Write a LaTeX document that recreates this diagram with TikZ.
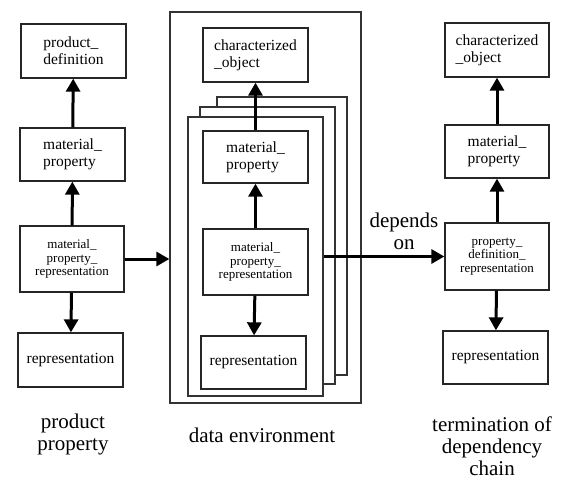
\documentclass[tikz,border=0pt]{standalone}
\usepackage{fontspec}
\setmainfont{Liberation Serif}
\usetikzlibrary{arrows.meta}

\newcommand{\boxfont}{\fontsize{15.5}{17}\selectfont}
\newcommand{\tinyfont}{\fontsize{13}{13.5}\selectfont}
\newcommand{\capfont}{\fontsize{21}{22}\selectfont}

\tikzstyle{box} = [rectangle, minimum width=105pt, minimum height=54pt, inner sep=2pt, draw=black!85, line width=1.3pt, fill=white, text centered, font=\boxfont]
\tikzstyle{box-small} = [box, align=center, minimum height=66pt, font=\tinyfont]
\tikzstyle{frame} = [rectangle, draw=black!80, line width=1.3pt, fill=white]
\tikzstyle{caption} = [align=center, inner sep=0pt, font=\capfont]
\tikzstyle{arrow} = [line width=3pt, -{Triangle[width=14pt,length=13pt]}]

\begin{document}
\begin{tikzpicture}[x=1pt, y=-1pt]
  \useasboundingbox (0,0) rectangle (567,488);

  % product property
  \node (pd_left) [box, align=left] at (73.5,51) {product\_\\definition};
  \node (mp_left) [box, align=left, minimum height=53pt] at (72.5,154.5) {material\_\\property};
  \node (mpr_left) [box-small, minimum width=104pt] at (72,259) {material\_\\property\_\\representation};
  \node (rep_left) [box] at (70.5,360) {representation};
  \node (cap_left) [caption] at (73,434) {product\\property};

  % data environment
  \node (env) [frame, minimum width=191pt, minimum height=391pt] at (265.5,207.5) {};
  \node (frame_back) [frame, minimum width=130pt, minimum height=278pt] at (282,236) {};
  \node (frame_mid) [frame, minimum width=135pt, minimum height=277pt] at (267.5,245.5) {};
  \node (frame_front) [frame, minimum width=135pt, minimum height=279pt] at (255.5,256.5) {};
  \node (co_mid) [box, align=left] at (255.5,55) {characterized\\\_object};
  \node (mp_mid) [box, align=left, minimum height=52pt] at (255.5,157) {material\_\\property};
  \node (mpr_mid) [box-small] at (255.5,262) {material\_\\property\_\\representation};
  \node (rep_mid) [box, minimum height=53pt] at (253.5,362.5) {representation};
  \node (cap_mid) [caption] at (262,435) {data environment};

  % termination of dependency chain
  \node (co_right) [box, align=left, minimum width=104pt] at (497,50) {characterized\\\_object};
  \node (mp_right) [box, align=left, minimum width=104pt, minimum height=53pt] at (497,151.5) {material\_\\property};
  \node (pdr_right) [box-small, minimum width=104pt, minimum height=67pt] at (497,256.5) {property\_\\definition\_\\representation};
  \node (rep_right) [box, minimum height=53pt] at (495.5,357.5) {representation};
  \node (cap_right) [caption] at (492,446.5) {termination of\\dependency\\chain};
  \node (depends) [caption] at (404,231) {depends\\on};

  \draw [arrow] (mpr_left) -- (mp_left);
  \draw [arrow] (mp_left) -- (pd_left);
  \draw [arrow] (mpr_left) -- (rep_left);
  \draw [arrow] (mpr_left.east) -- (mpr_left.east -| env.west);
  \draw [arrow] (mpr_mid) -- (mp_mid);
  \draw [arrow] (mp_mid) -- (co_mid);
  \draw [arrow] (mpr_mid) -- (rep_mid);
  \draw [arrow] (frame_front.east) -- (pdr_right.west);
  \draw [arrow] (pdr_right) -- (mp_right);
  \draw [arrow] (mp_right) -- (co_right);
  \draw [arrow] (pdr_right) -- (rep_right);
\end{tikzpicture}
\end{document}
